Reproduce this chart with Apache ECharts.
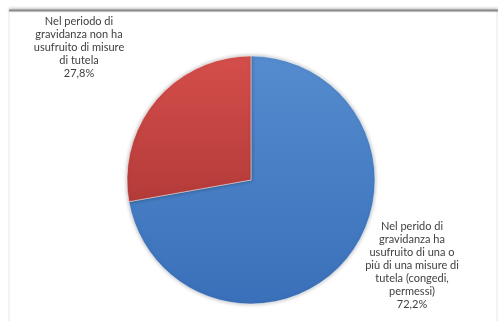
<!DOCTYPE html>
<html>
<head>
<meta charset="utf-8">
<script src="https://cdn.jsdelivr.net/npm/echarts@6/dist/echarts.min.js"></script>
<style>
  html, body { margin: 0; padding: 0; background: #ffffff; }
  #chart { width: 498px; height: 321px; }
</style>
</head>
<body>
<div id="chart"></div>
<script>
// Categories and shares (%)
const categories = [
  'Nel perido di\ngravidanza ha\nusufruito di una o\npiù di una misure di\ntutela (congedi,\npermessi)',
  'Nel periodo di\ngravidanza non ha\nusufruito di misure\ndi tutela'
];
const shares = [72.2, 27.8];

// Slice shading: lighter top, deeper bottom
const sliceColors = [
  ['#558ccf', '#3a70b9'],
  ['#d54e4b', '#b43b39']
];
// Label anchor points (centre of each text block)
const labelAnchors = [
  { x: 412, y: 265 },
  { x: 79, y: 47 }
];

const chart = echarts.init(document.getElementById('chart'), null, { renderer: 'canvas' });

const fmt = v => v.toFixed(1).replace('.', ',') + '%';

chart.setOption({
  animation: false,
  graphic: [
    {
      type: 'rect',
      shape: { x: 9, y: 10, width: 488, height: 330 },
      style: { fill: 'none', stroke: '#e6e6e6', lineWidth: 1 }
    },
    {
      type: 'line',
      shape: { x1: 9, y1: 10.5, x2: 498, y2: 10.5 },
      style: { stroke: '#8c8c8c', lineWidth: 2, shadowBlur: 3, shadowColor: 'rgba(0,0,0,0.35)', shadowOffsetY: -1 }
    }
  ],
  series: [{
    type: 'pie',
    center: [251, 180],
    radius: [0, 124],
    startAngle: 90,
    clockwise: true,
    silent: true,
    data: categories.map((name, i) => ({
      name,
      value: shares[i],
      itemStyle: {
        color: {
          type: 'linear', x: 0, y: 0, x2: 0, y2: 1,
          colorStops: [
            { offset: 0, color: sliceColors[i][0] },
            { offset: 1, color: sliceColors[i][1] }
          ]
        }
      }
    })),
    itemStyle: {
      borderColor: 'rgba(255,255,255,0.45)',
      borderWidth: 1,
      shadowBlur: 4,
      shadowColor: 'rgba(0,0,0,0.3)'
    },
    label: {
      show: true,
      position: 'outside',
      formatter: p => p.name + '\n' + fmt(p.value),
      fontFamily: 'Lato',
      fontSize: 11,
      lineHeight: 13,
      color: '#404040',
      align: 'center'
    },
    labelLine: { show: false },
    labelLayout: params => ({
      x: labelAnchors[params.dataIndex].x,
      y: labelAnchors[params.dataIndex].y,
      align: 'center',
      verticalAlign: 'middle',
      moveOverlap: false
    })
  }]
});
</script>
</body>
</html>
